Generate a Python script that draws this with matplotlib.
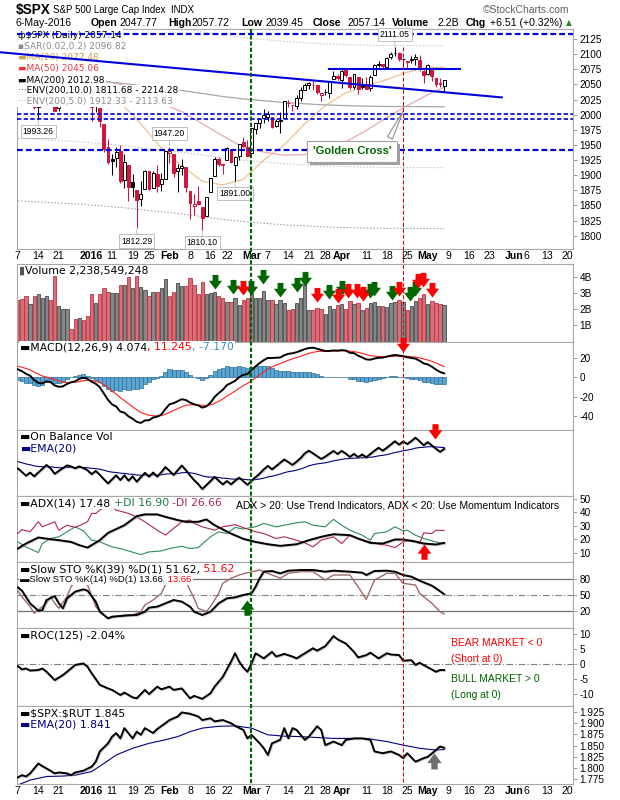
import numpy as np
import matplotlib
matplotlib.use("Agg")
import matplotlib.pyplot as plt
import matplotlib.transforms as mtransforms
import matplotlib.patheffects as pe
from matplotlib.lines import Line2D
from matplotlib.path import Path

plt.rcParams['font.family'] = ['DejaVu Sans']

# ---------------------------------------------------------------- data
# closes before the visible window (Sep 24 - Dec 4 2015), only used to warm up MACD
prior_close = [1932.24, 1931.34, 1881.77, 1884.09, 1920.03,
               1923.82, 1951.36, 1987.05, 1979.92, 1995.83, 2013.43, 2014.89, 2017.46, 2003.69,
               1994.24, 2023.86, 2033.11, 2033.66, 2030.77, 2018.94, 2052.51, 2075.15, 2071.18,
               2065.89, 2090.35, 2089.41, 2079.36,
               2104.05, 2109.79, 2102.31, 2099.93, 2099.20, 2078.58, 2081.72, 2075.00, 2045.97,
               2023.04, 2053.19, 2050.44, 2083.58, 2081.24, 2089.17, 2086.59, 2089.14, 2088.87,
               2090.11, 2080.41,
               2102.63, 2079.51, 2049.62, 2091.69]

# daily candles, Dec 7 2015 - May 6 2016
opens = [2090.42, 2073.39, 2061.17, 2047.93, 2047.27, 2013.37, 2025.55, 2046.50, 2073.76, 2040.81,
         2010.27, 2023.15, 2042.20, 2063.52, 2057.77, 2060.54, 2077.34, 2060.59, 2038.20, 2013.78,
         2011.71, 1985.32, 1945.97, 1926.12, 1927.83, 1940.34, 1891.68, 1916.68, 1888.66, 1876.18,
         1861.46, 1877.40, 1906.28, 1878.79, 1902.52, 1885.22, 1894.00, 1936.94, 1935.26, 1907.07,
         1911.67, 1913.07, 1873.25, 1848.46, 1857.10, 1847.00, 1833.40, 1871.44, 1898.80, 1927.57,
         1916.74, 1924.44, 1942.38, 1917.56, 1931.87, 1954.95, 1947.13, 1937.09, 1976.60, 1985.60,
         1994.01, 1996.11, 1996.88, 1981.44, 1990.97, 1994.71, 2019.27, 2015.27, 2014.24, 2026.90,
         2041.16, 2048.64, 2048.64, 2048.55, 2032.48, 2037.89, 2035.75, 2058.27, 2063.77, 2056.62,
         2073.19, 2062.50, 2045.56, 2063.01, 2045.54, 2050.23, 2043.72, 2065.92, 2082.89, 2083.10,
         2078.83, 2096.05, 2101.52, 2102.09, 2091.49, 2089.37, 2089.84, 2092.57, 2090.93, 2071.82,
         2067.17, 2077.18, 2060.30, 2052.95, 2047.77]
highs = [2090.42, 2073.85, 2080.33, 2067.65, 2047.27, 2022.92, 2053.87, 2076.72, 2076.37, 2040.81,
         2022.90, 2042.74, 2064.73, 2067.36, 2057.77, 2081.56, 2077.34, 2062.54, 2038.20, 2021.94,
         2011.71, 1985.32, 1960.40, 1935.65, 1947.38, 1950.33, 1934.47, 1916.68, 1901.44, 1876.18,
         1889.85, 1908.85, 1906.28, 1906.73, 1916.99, 1902.96, 1940.24, 1947.20, 1935.26, 1918.01,
         1927.35, 1913.07, 1873.25, 1868.25, 1881.60, 1847.00, 1864.78, 1895.77, 1930.68, 1930.00,
         1918.78, 1946.70, 1942.38, 1932.08, 1951.83, 1962.96, 1958.27, 1978.35, 1986.51, 1993.69,
         2009.13, 2006.12, 1996.88, 1992.69, 2005.08, 2022.37, 2024.57, 2015.94, 2032.02, 2046.24,
         2052.36, 2053.91, 2056.60, 2048.55, 2036.04, 2042.67, 2055.91, 2072.21, 2067.92, 2075.07,
         2074.02, 2062.50, 2067.33, 2063.01, 2060.63, 2062.93, 2065.05, 2083.18, 2087.84, 2083.22,
         2094.66, 2104.05, 2111.05, 2103.78, 2094.32, 2089.37, 2096.87, 2099.89, 2099.30, 2073.85,
         2083.42, 2077.18, 2060.30, 2060.23, 2057.72]
lows = [2066.78, 2052.32, 2036.53, 2045.67, 2008.80, 1993.26, 2025.55, 2042.43, 2041.66, 2005.33,
        2005.93, 2020.49, 2042.20, 2058.73, 2044.20, 2060.54, 2061.97, 2043.62, 1989.68, 2004.17,
        1979.05, 1938.83, 1918.46, 1901.10, 1914.35, 1886.41, 1878.93, 1857.83, 1864.60, 1812.29,
        1848.98, 1877.40, 1875.97, 1878.79, 1872.70, 1873.65, 1894.00, 1920.03, 1897.29, 1872.23,
        1900.52, 1872.65, 1828.46, 1834.94, 1850.32, 1810.10, 1833.40, 1871.44, 1898.80, 1915.09,
        1902.17, 1924.44, 1919.44, 1891.00, 1925.41, 1945.78, 1931.81, 1937.09, 1968.80, 1977.37,
        1986.77, 1989.38, 1977.43, 1979.84, 1969.25, 1994.71, 2012.05, 2005.23, 2010.04, 2022.16,
        2041.16, 2043.14, 2040.57, 2034.86, 2022.49, 2031.96, 2028.31, 2058.27, 2057.46, 2043.98,
        2062.57, 2042.56, 2043.09, 2033.80, 2041.69, 2041.88, 2039.74, 2065.92, 2078.13, 2076.31,
        2078.83, 2091.68, 2096.32, 2088.52, 2081.20, 2077.52, 2085.80, 2082.31, 2071.62, 2052.28,
        2066.11, 2054.89, 2045.55, 2045.77, 2039.45]
closes = [2077.07, 2063.59, 2047.62, 2052.23, 2012.37, 2021.94, 2043.41, 2073.07, 2041.89, 2005.55,
          2021.15, 2038.97, 2064.29, 2060.99, 2056.50, 2078.36, 2063.36, 2043.94, 2012.66, 2016.71,
          1990.26, 1943.09, 1922.03, 1923.67, 1938.68, 1890.28, 1921.84, 1880.33, 1881.33, 1859.33,
          1868.99, 1906.90, 1877.08, 1903.63, 1882.95, 1893.36, 1940.24, 1939.38, 1903.03, 1912.53,
          1915.45, 1880.05, 1853.44, 1852.21, 1851.86, 1829.08, 1864.78, 1895.58, 1926.82, 1917.83,
          1917.78, 1945.50, 1921.27, 1929.80, 1951.70, 1948.05, 1932.23, 1978.35, 1986.45, 1993.40,
          1999.99, 2001.76, 1979.26, 1989.26, 1989.57, 2022.19, 2019.64, 2015.93, 2027.22, 2040.59,
          2049.58, 2051.60, 2049.80, 2036.71, 2035.94, 2037.05, 2055.01, 2063.95, 2059.74, 2072.78,
          2066.13, 2045.17, 2066.66, 2041.91, 2047.60, 2041.99, 2061.72, 2082.42, 2082.78, 2080.73,
          2094.34, 2100.80, 2102.40, 2091.48, 2091.58, 2087.79, 2091.70, 2095.15, 2075.81, 2065.30,
          2081.43, 2063.37, 2051.12, 2050.63, 2057.14]
# volume in billions of shares
volume = [2.56, 2.62, 2.81, 2.31, 2.81, 2.94, 2.73, 2.81, 2.56, 4.06,
          2.23, 2.04, 2.04, 0.79, 1.42, 1.48, 1.31, 1.56, 2.92, 2.42,
          2.92, 3.29, 3.08, 3.04, 2.98, 3.50, 3.50, 4.02, 3.29, 4.06,
          3.40, 3.19, 2.81, 3.08, 3.08, 3.29, 3.85, 2.81, 3.10, 3.60,
          3.44, 3.44, 3.92, 3.50, 2.94, 3.67, 2.94, 2.98, 3.10, 2.81,
          2.73, 2.48, 2.46, 2.67, 2.29, 2.60, 2.73, 2.98, 2.67, 2.73,
          3.13, 2.60, 2.60, 2.35, 2.56, 2.42, 1.98, 2.04, 2.42, 2.67,
          3.50, 1.98, 1.98, 2.10, 2.04, 1.69, 2.19, 2.04, 2.25, 2.31,
          2.04, 2.50, 2.31, 2.42, 1.98, 2.10, 2.42, 2.48, 2.19, 2.19,
          2.15, 2.42, 2.46, 2.56, 2.46, 1.98, 2.19, 2.52, 2.67, 2.94,
          2.31, 2.50, 2.40, 2.35, 2.24]

# moving averages read every 5 sessions
ma_x = [0, 5, 10, 15, 20, 25, 30, 35, 40, 45, 50, 55, 60, 65, 70, 75, 80, 85, 90, 95, 100, 104]
ma20 = [2078, 2072, 2058, 2052, 2048, 2020, 1985, 1945, 1915, 1890, 1884, 1893, 1925, 1950, 1985,
        2015, 2036, 2048, 2058, 2070, 2079, 2077.48]
ma50 = [2045, 2050, 2055, 2058, 2058, 2050, 2035, 2019, 2005, 1985, 1965, 1946, 1938, 1933, 1934,
        1939, 1955, 1974, 1995, 2015, 2033, 2045.06]
ma200 = [2064, 2062, 2060, 2058, 2055, 2052, 2048, 2044, 2040, 2035, 2030, 2026, 2023, 2020, 2018,
         2016, 2015, 2014, 2013.5, 2013.5, 2013.2, 2012.98]

obv_ema_start = 2.4

adx_x = [0, 2, 5, 8, 10, 13, 15, 17, 20, 22, 26, 29, 31, 34, 36, 39, 41, 44, 46, 48,
         52, 55, 58, 61, 64, 68, 71, 74, 77, 81, 83, 86, 89, 92, 94, 97, 99, 102, 104]
adx = [13.3, 17.0, 21.5, 20.2, 19.5, 18.2, 15.8, 14.0, 19.5, 24.9, 30.6, 37.3, 38.6, 38.6, 36.8,
       34.4, 33.1, 33.1, 34.9, 30.6, 24.4, 20.5, 18.2, 16.5, 15.3, 16.5, 19.5, 22.0, 23.9, 23.2,
       20.7, 17.5, 17.0, 20.0, 20.0, 18.5, 17.0, 16.3, 17.48]
pdi_x = [0, 2, 5, 6, 8, 10, 12, 14, 16, 18, 20, 23, 25, 27, 30, 32, 35, 37, 40, 42,
         44, 47, 49, 51, 53, 55, 58, 60, 63, 65, 68, 70, 72, 75, 77, 79, 81, 84, 86, 87,
         90, 92, 94, 95, 97, 99, 102, 104]
pdi = [18.2, 14.5, 10.3, 17.0, 20.7, 22.0, 25.7, 29.4, 26.4, 19.5, 18.2, 14.5, 13.3, 11.5, 8.8,
       10.8, 11.5, 13.3, 15.0, 13.3, 14.0, 22.0, 25.7, 24.4, 28.9, 27.8, 29.4, 31.9, 29.4, 30.6,
       32.4, 33.1, 30.6, 29.4, 34.9, 30.6, 26.9, 23.2, 19.5, 24.4, 25.7, 29.4, 26.4, 26.9, 23.2,
       20.7, 18.2, 16.9]
mdi_x = [0, 1, 3, 5, 6, 9, 10, 12, 14, 17, 18, 19, 20, 22, 24, 27, 29, 31, 34, 36,
         38, 40, 42, 43, 45, 48, 50, 53, 55, 58, 60, 63, 65, 68, 70, 72, 74, 77, 79, 81,
         83, 86, 88, 90, 92, 94, 96, 98, 99, 101, 102, 104]
mdi = [24.4, 27.4, 25.7, 33.1, 29.4, 33.1, 26.9, 30.6, 28.9, 33.1, 39.3, 39.3, 41.8, 45.0, 41.8,
       39.3, 36.8, 33.1, 26.9, 23.2, 28.2, 33.1, 34.4, 31.9, 29.4, 26.9, 29.4, 31.0, 28.8, 25.7,
       24.4, 20.7, 22.0, 19.5, 17.5, 14.5, 19.5, 22.0, 17.0, 23.2, 20.7, 18.2, 16.5, 15.8, 14.0,
       18.2, 19.5, 17.0, 24.9, 24.4, 26.9, 26.66]

sto39_x = [0, 1, 3, 5, 6, 7, 9, 10, 11, 12, 14, 16, 17, 19, 20, 22, 23, 25, 27, 29,
           31, 32, 34, 36, 38, 40, 42, 43, 45, 47, 49, 51, 53, 55, 57, 58, 59, 60, 62, 64,
           66, 69, 72, 75, 77, 81, 84, 85, 87, 90, 92, 94, 96, 98, 101, 102, 104]
sto39 = [64.7, 58.3, 34.0, 20.0, 21.3, 40.4, 48.0, 34.0, 24.5, 43.6, 56.4, 60.8, 58.3, 37.3, 18.1,
         5.4, 8.6, 9.8, 11.1, 11.8, 18.1, 25.8, 27.7, 34.1, 40.4, 37.3, 27.7, 18.1, 11.8, 18.1,
         34.1, 43.6, 45.5, 50.0, 53.2, 65.9, 81.9, 94.6, 95.9, 91.4, 96.5, 97.8, 97.8, 94.6, 96.5,
         94.6, 92.7, 88.2, 95.9, 96.5, 94.6, 88.2, 85.1, 77.4, 67.8, 62.7, 51.62]
sto14_x = [0, 1, 3, 4, 5, 7, 8, 9, 10, 12, 13, 14, 16, 17, 18, 19, 21, 22, 24, 26,
           28, 30, 31, 33, 35, 36, 38, 40, 41, 43, 44, 46, 47, 49, 50, 52, 54, 55, 59, 61,
           64, 66, 69, 72, 75, 77, 81, 83, 85, 87, 90, 92, 94, 97, 98, 101, 103, 104]
sto14 = [58.3, 46.8, 27.7, 15.0, 21.3, 34.1, 46.8, 34.1, 24.5, 46.8, 65.9, 75.5, 72.3, 69.1, 50.0,
         27.7, 11.8, 5.4, 8.6, 11.8, 11.8, 18.1, 30.9, 40.4, 53.2, 69.1, 78.7, 83.8, 75.5, 43.6,
         24.5, 18.1, 27.7, 53.2, 72.3, 81.9, 88.2, 90.5, 97.8, 91.4, 81.9, 91.4, 94.6, 94.6, 78.7,
         88.2, 88.2, 65.9, 41.7, 78.7, 91.4, 91.4, 72.3, 69.1, 53.2, 34.1, 18.1, 13.66]

roc_x = [0, 1, 2, 3, 5, 6, 7, 9, 11, 12, 14, 16, 17, 18, 20, 22, 23, 25, 26, 28,
         29, 31, 32, 34, 35, 37, 38, 40, 42, 43, 45, 47, 48, 50, 52, 53, 54, 55, 56, 57,
         58, 60, 62, 63, 65, 67, 68, 70, 72, 73, 75, 77, 78, 80, 82, 83, 85, 86, 88, 90,
         91, 93, 94, 96, 97, 98, 100, 102, 103, 104]
roc = [-0.7, -1.8, -1.5, -2.2, -2.0, -1.5, -2.6, -5.4, -3.7, -2.6, -0.3, 0.2, -0.9, -3.1, -7.0,
       -8.2, -8.7, -10.4, -9.6, -11.2, -11.5, -8.7, -10.1, -7.6, -8.5, -7.6, -8.7, -8.2, -11.5,
       -10.7, -11.7, -9.8, -7.6, -4.3, 0.8, 3.6, 0.8, -1.2, -2.6, 0.2, 3.6, 1.9, 4.1, 2.5, 3.4,
       2.5, 1.9, 3.6, 5.3, 4.5, 6.0, 9.4, 8.3, 6.9, 4.1, 2.2, 3.0, 3.8, 1.9, 3.6, 3.2, 3.0, 1.1,
       1.3, -0.3, 0.4, -1.1, -2.6, -2.0, -2.04]

ratio_x = [0, 1, 2, 3, 5, 6, 7, 9, 10, 12, 13, 14, 16, 18, 19, 20, 22, 23, 24, 25,
           26, 28, 29, 30, 31, 33, 34, 36, 37, 39, 40, 42, 44, 45, 47, 48, 50, 52, 53, 55,
           56, 57, 59, 60, 61, 62, 64, 65, 66, 67, 68, 70, 71, 73, 74, 75, 77, 79, 80, 82,
           84, 86, 87, 89, 91, 93, 94, 95, 97, 99, 100, 102, 103, 104]
ratio = [1.779, 1.784, 1.781, 1.788, 1.810, 1.804, 1.799, 1.788, 1.790, 1.788,
         1.784, 1.790, 1.794, 1.803, 1.814, 1.837, 1.855, 1.870, 1.878, 1.866,
         1.889, 1.866, 1.881, 1.874, 1.889, 1.878, 1.887, 1.900, 1.907, 1.915,
         1.924, 1.921, 1.915, 1.907, 1.911, 1.904, 1.907, 1.900, 1.894, 1.885,
         1.866, 1.874, 1.855, 1.844, 1.829, 1.855, 1.863, 1.889, 1.866, 1.889,
         1.885, 1.863, 1.870, 1.893, 1.885, 1.851, 1.859, 1.851, 1.863, 1.866,
         1.866, 1.863, 1.837, 1.833, 1.837, 1.829, 1.822, 1.833, 1.814, 1.822,
         1.825, 1.840, 1.848, 1.845]
ratio_ema_x = [0, 3, 7, 11, 14, 18, 21, 24, 28, 32, 36, 39, 42, 45, 49, 53, 57, 61, 65, 69,
               77, 85, 90, 94, 98, 102, 104]
ratio_ema = [1.762, 1.773, 1.781, 1.782, 1.784, 1.792, 1.810, 1.829, 1.844, 1.855, 1.863, 1.870,
             1.881, 1.889, 1.893, 1.894, 1.889, 1.874, 1.871, 1.870, 1.866, 1.866, 1.859, 1.851,
             1.844, 1.840, 1.841]

tick_pos = [0, 5, 10, 18, 23, 28, 32, 37, 42, 47, 51, 57, 61, 66, 71, 75, 79, 85, 90, 95,
            100, 105, 110, 115, 121, 124, 129, 134]
tick_lab = ['7', '14', '21', '2016', '11', '19', '25', 'Feb', '8', '16', '22', 'Mar', '7', '14',
            '21', '28', 'Apr', '11', '18', '25', 'May', '9', '16', '23', 'Jun', '6', '13', '20']

# labelled extremes: session index and which end of the candle
note_idx = [5, 37, 53, 29, 45, 92]
note_kind = ['low', 'high', 'low', 'low', 'low', 'high']

# drawn trendlines / levels
hlevels = [2132.7, 2001.6, 1992.4, 1941.0]
hlevel_lw = [1.6, 1.2, 1.2, 1.6]
slope_x = [-4.34, 118.05]
slope_y = [2103.1, 2028.5]
flat_x = [76.0, 107.8]
flat_y = [2076.0, 2076.0]
green_line_x = 56.8
red_line_x = 93.9

# annotation arrows
vol_green_x = [48.1, 52.5, 56.9, 59.8, 64.0, 68.1, 70.0, 75.9, 79.1, 85.9, 86.9, 91.3, 95.7, 96.9]
vol_green_y = [3.28, 2.97, 2.91, 3.59, 2.78, 3.09, 3.47, 2.66, 2.91, 2.72, 2.84, 2.59, 2.53, 2.84]
vol_red_x = [55.0, 73.0, 78.1, 80.5, 82.7, 84.2, 93.0, 97.6, 98.8, 101.0]
vol_red_y = [2.91, 2.47, 2.41, 2.72, 2.72, 2.53, 2.84, 3.34, 3.41, 2.78]

# ---------------------------------------------------------------- derived
n = len(closes)
x = np.arange(n)
o, h, l, c = (np.array(v) for v in (opens, highs, lows, closes))
vol = np.array(volume)
prevc = np.r_[prior_close[-1], c[:-1]]
up = c >= prevc


def ema(vals, span, start=None):
    a = 2.0 / (span + 1)
    out = np.empty(len(vals))
    out[0] = vals[0] if start is None else start
    for k in range(1, len(vals)):
        out[k] = out[k - 1] + a * (vals[k] - out[k - 1])
    return out


allc = np.array(prior_close + closes)
macd_all = ema(allc, 12) - ema(allc, 26)
sig_all = ema(macd_all, 9)
k0 = len(prior_close)
macd = macd_all[k0:]
signal = sig_all[k0:]
hist = macd - signal

obv = np.cumsum(np.where(up, vol, -vol))
obv_ema = ema(obv, 20, start=obv_ema_start)

# ---------------------------------------------------------------- layout
W, H = 620, 800
PL, PR = 16.7, 573.3
fig = plt.figure(figsize=(W / 100, H / 100), dpi=100)
fig.patch.set_facecolor('white')


def fx(px):
    return px / W


def fy(py):
    return 1 - py / H


AXF = 'Liberation Sans'


def panel(top, bot, ylim, yticks=None, ylabels=None):
    ax = fig.add_axes([fx(PL), fy(bot), (PR - PL) / W, (bot - top) / H])
    ax.set_xlim(-0.27, 135.5)
    ax.set_ylim(*ylim)
    for s in ax.spines.values():
        s.set_color('#A8A8A8')
        s.set_linewidth(0.8)
    ax.yaxis.tick_right()
    ax.tick_params(axis='y', direction='out', length=3, width=0.6, color='#909090',
                   labelsize=7.2, pad=1.5)
    ax.set_xticks([])
    if yticks is None:
        ax.set_yticks([])
    else:
        lab = ylabels if ylabels is not None else [str(t) for t in yticks]
        ax.set_yticks(yticks, lab, fontfamily=AXF)
    return ax


def xlabels(ax):
    ax.set_xticks(tick_pos, tick_lab, fontsize=7.6, fontfamily=AXF)
    for t, s in zip(ax.get_xticklabels(), tick_lab):
        if (not s.isdigit()) or s == '2016':
            t.set_fontweight('bold')
    ax.tick_params(axis='x', length=0, pad=1.5)


def write(ax, px, py, pieces, size=7.8, family='DejaVu Sans', bg=True, z=6):
    prev = None
    for s, colr in pieces:
        kw = dict(color=colr, fontsize=size, fontfamily=family, zorder=z, parse_math=False)
        if bg:
            kw['bbox'] = dict(boxstyle='square,pad=0.1', fc='white', ec='none')
        if prev is None:
            prev = ax.text(fx(px), fy(py), s, transform=fig.transFigure, ha='left', va='center', **kw)
        else:
            prev = ax.annotate(s, xy=(1, 0), xycoords=prev, ha='left', va='bottom', **kw)
    return prev


down_arrow = Path([(0, 0), (0.45, 0.6), (0.2, 0.6), (0.2, 1.0), (-0.2, 1.0), (-0.2, 0.6),
                   (-0.45, 0.6), (0, 0)], closed=True)
up_arrow = Path([(0, 0), (0.45, -0.6), (0.2, -0.6), (0.2, -1.0), (-0.2, -1.0), (-0.2, -0.6),
                 (-0.45, -0.6), (0, 0)], closed=True)


def arrows(ax, xs, ys, color, marker, ms=22):
    ax.plot(xs, ys, linestyle='none', marker=marker, ms=ms, mfc=color, mec=color, mew=0,
            clip_on=False, zorder=7)


shadow = [pe.SimpleLineShadow(offset=(0.6, -0.6), shadow_color='#9A9A9A', alpha=0.5), pe.Normal()]

# ---------------------------------------------------------------- header
fig.text(fx(16), fy(10), '$SPX', fontsize=9.8, fontweight='bold', family=AXF, va='center',
         parse_math=False)
fig.text(fx(53), fy(10), 'S&P 500 Large Cap Index  INDX', fontsize=7.0, family=AXF, va='center')
fig.text(fx(483), fy(10), '\u00a9StockCharts.com', fontsize=7.5, family=AXF, va='center',
         color='#606060')
head = [(16, '6-May-2016', 'normal'), (91, 'Open', 'bold'), (120, '2047.77', 'normal'),
        (168, 'High', 'bold'), (192, '2057.72', 'normal'), (241, 'Low', 'bold'),
        (265, '2039.45', 'normal'), (313, 'Close', 'bold'), (347, '2057.14', 'normal'),
        (392, 'Volume', 'bold'), (437, '2.2B', 'normal'), (466, 'Chg', 'bold'),
        (490, '+6.51 (+0.32%)', 'normal')]
for px, s, wgt in head:
    fig.text(fx(px), fy(23), s, fontsize=7.6, fontweight=wgt, family=AXF, va='center')
fig.text(fx(566), fy(23), '\u25b2', fontsize=5.5, color='#1E8C1E', va='center')

# ---------------------------------------------------------------- price panel
axp = panel(29.3, 249.3, (1777.6, 2141.0), list(range(1800, 2126, 25)))
xlabels(axp)
ccol = np.where(up, 'black', '#D2143C')
axp.vlines(x, l, h, colors=ccol, lw=0.75, zorder=3)
fill = np.where(c > o, 'white', ccol)
axp.bar(x, np.maximum(np.abs(c - o), 0.5), bottom=np.minimum(o, c), width=0.7, color=fill,
        edgecolor=ccol, linewidth=0.7, zorder=3.5)

m200 = np.array(ma200)
axp.plot(ma_x, ma20, color='#EDC38E', lw=0.9, zorder=2)
axp.plot(ma_x, ma50, color='#E8ABAB', lw=0.9, zorder=2)
axp.plot(ma_x, m200, color='#A8A8A8', lw=0.9, zorder=2)
axp.plot(ma_x, m200 * 0.9, color='#A8A8A8', lw=0.8, ls=(0, (1.5, 1.5)), zorder=2)
axp.plot(ma_x, m200 * 1.1, color='#A8A8A8', lw=0.8, ls=(0, (1.5, 1.5)), zorder=2)
axp.plot(ma_x, m200 * 0.95, color='#CBCBCB', lw=0.8, ls=(0, (1.5, 1.5)), zorder=2)
axp.plot(ma_x, m200 * 1.05, color='#CBCBCB', lw=0.8, ls=(0, (1.5, 1.5)), zorder=2)

legend_items = [('\u0444$SPX (Daily) 2057.14', 'black'),
                ('\u25aaSAR(0.02,0.2) 2096.82', '#8C8C8C'),
                ('\u25acMA(20) 2077.48', '#D9A04E'),
                ('\u25acMA(50) 2045.06', '#E8383C'),
                ('\u25acMA(200) 2012.98', 'black'),
                ('\u00b7\u00b7\u00b7ENV(200,10.0) 1811.68 - 2214.28', 'black'),
                ('\u00b7\u00b7\u00b7ENV(200,5.0) 1912.33 - 2113.63', '#8C8C8C')]
legend_y = [35.0, 46.7, 57.3, 69.0, 80.0, 90.7, 101.3]
for (s, colr), py in zip(legend_items, legend_y):
    axp.text(fx(18), fy(py), s, transform=fig.transFigure, fontsize=6.5, color=colr,
             va='center', ha='left', zorder=4, parse_math=False,
             bbox=dict(boxstyle='square,pad=0.15', fc='white', ec='none'))

blue = '#0000DD'
for lev, lw in zip(hlevels, hlevel_lw):
    axp.axhline(lev, color=blue, lw=lw, ls=(0, (2.6, 1.4)), zorder=5)
axp.plot(slope_x, slope_y, color=blue, lw=1.5, zorder=5, clip_on=False)
axp.plot(flat_x, flat_y, color=blue, lw=1.5, zorder=5)

for i, kind in zip(note_idx, note_kind):
    v = highs[i] if kind == 'high' else lows[i]
    dy = 6 if kind == 'high' else -6
    axp.annotate(f'{v:.2f}', xy=(i, v), xytext=(0, dy), textcoords='offset points',
                 ha='center', va='bottom' if kind == 'high' else 'top', fontsize=6.2,
                 family=AXF, zorder=6,
                 bbox=dict(boxstyle='square,pad=0.25', fc='white', ec='#B4B4B4', lw=0.6),
                 arrowprops=dict(arrowstyle='-', color='#B4B4B4', lw=0.6, shrinkA=0, shrinkB=1))

gc_xy = (94.3, 2010.0)
gc_text = (81.5, 1939.5)
gc = axp.annotate("'Golden Cross'", xy=gc_xy, xytext=gc_text, ha='center', va='center',
                  fontsize=8, fontweight='bold', family=AXF, color='#006400', zorder=8,
                  bbox=dict(boxstyle='square,pad=0.5', fc='white', ec='#A0A0A0', lw=0.8),
                  arrowprops=dict(arrowstyle='wedge,tail_width=0.5', fc='white', ec='#909090',
                                  lw=0.8, relpos=(0.93, 1.0)))
gc.get_bbox_patch().set_path_effects([
    pe.SimplePatchShadow(offset=(2, -2), shadow_rgbFace='#A0A0A0', alpha=1.0), pe.Normal()])

# ---------------------------------------------------------------- volume
axv = panel(263.5, 341.5, (0, 4.84), [1, 2, 3, 4], ['1B', '2B', '3B', '4B'])
axv.bar(x, vol, width=0.82, color=np.where(up, '#878787', '#D5707A'),
        edgecolor=np.where(up, '#4A4A4A', '#C0303E'), linewidth=0.6, zorder=2)
arrows(axv, vol_green_x, vol_green_y, '#006600', down_arrow, ms=21)
arrows(axv, vol_red_x, vol_red_y, '#FF0000', down_arrow, ms=21)
write(axv, 19, 271, [('\u25ae', '#555555'), ('Volume 2,238,549,248', 'black')], bg=False)

# ---------------------------------------------------------------- MACD
axm = panel(341.5, 430.0, (-54.9, 37.3), [-40, -20, 0, 20])
axm.bar(x, hist, width=1.0, color='#5BA5D2', edgecolor='#2B6E96', linewidth=0.5, zorder=2)
axm.plot(x, signal, color='#FF2020', lw=0.8, zorder=3)
axm.plot(x, macd, color='black', lw=1.4, zorder=4)
arrows(axm, [94.0], [26.4], '#FF0000', down_arrow, ms=21)
write(axm, 20, 347.3, [('\u25acMACD(12,26,9) 4.074', 'black'), (', 11.245', '#FF0000'),
                       (', -7.170', '#3A8FC4')])

# ---------------------------------------------------------------- OBV
axo = panel(430.0, 496.3, (-23.3, 26.0))
axo.plot(x, obv_ema, color='#000080', lw=0.8, zorder=3)
axo.plot(x, obv, color='black', lw=1.4, zorder=4, path_effects=shadow)
arrows(axo, [101.8], [19.1], '#FF0000', down_arrow, ms=22)
write(axo, 20, 437.3, [('\u25acOn Balance Vol', 'black')])
write(axo, 20, 448.3, [('\u25acEMA(20)', '#000080')])

# ---------------------------------------------------------------- ADX
axa = panel(496.3, 562.3, (3.1, 52.0), [10, 20, 30, 40, 50])
axa.plot(pdi_x, pdi, color='#2E8B57', lw=0.8, zorder=3)
axa.plot(mdi_x, mdi, color='#B2284E', lw=0.8, zorder=3)
axa.plot(adx_x, adx, color='black', lw=1.4, zorder=4, path_effects=shadow)
arrows(axa, [99.1], [16.5], '#FF0000', up_arrow, ms=22)
write(axa, 20, 503.3, [('\u25acADX(14) 17.48 ', 'black'), ('+DI 16.90 ', '#1E7A3C'),
                       ('-DI 26.66', '#B2284E')])
axa.text(fx(235.5), fy(505.3), 'ADX > 20: Use Trend Indicators, ADX < 20: Use Momentum Indicators',
         transform=fig.transFigure, fontsize=7.5, family=AXF, va='center', ha='left', zorder=6)

# ---------------------------------------------------------------- Slow STO
axs = panel(562.3, 628.3, (-13.7, 112.5), [20, 50, 80])
axs.axhline(80, color='#707070', lw=0.9, zorder=1)
axs.axhline(20, color='#707070', lw=0.9, zorder=1)
axs.axhline(50, color='#808080', lw=0.8, ls=(0, (6, 2, 1, 2)), zorder=1)
axs.plot(sto14_x, sto14, color='#A06A6A', lw=1.0, zorder=3)
axs.plot(sto39_x, sto39, color='black', lw=1.4, zorder=4, path_effects=shadow)
arrows(axs, [55.8], [40.4], '#006600', up_arrow, ms=22)
write(axs, 20, 569.3, [('\u25acSlow STO %K(39) %D(1) 51.62,', 'black'), (' 51.62', '#FF0000')])
write(axs, 20, 579.3, [('\u25acSlow STO %K(14) %D(1) 13.66,', 'black'), (' 13.66', '#FF0000')],
      size=6.8, family=AXF)

# ---------------------------------------------------------------- ROC
axr = panel(628.3, 705.7, (-14.0, 12.0), [-10, -5, 0, 5, 10])
axr.axhline(0, color='#808080', lw=0.8, ls=(0, (6, 2, 1, 2)), zorder=1)
axr.plot(roc_x, roc, color='black', lw=1.4, zorder=4, path_effects=shadow)
write(axr, 20, 635.7, [('\u25acROC(125) -2.04%', 'black')])
for py, s, colr in [(643.3, 'BEAR MARKET < 0', '#FF0000'), (659.0, '(Short at 0)', '#FF0000'),
                    (679.3, 'BULL MARKET > 0', '#006400'), (695.0, '(Long at 0)', '#006400')]:
    axr.text(fx(451), fy(py), s, transform=fig.transFigure, fontsize=7.4, family=AXF,
             color=colr, va='center', ha='left', zorder=6)

# ---------------------------------------------------------------- SPX:RUT
axq = panel(705.7, 784.3, (1.7636, 1.939),
            [1.775, 1.8, 1.825, 1.85, 1.875, 1.9, 1.925],
            ['1.775', '1.800', '1.825', '1.850', '1.875', '1.900', '1.925'])
xlabels(axq)
axq.plot(ratio_ema_x, ratio_ema, color='#000080', lw=0.8, zorder=3)
axq.plot(ratio_x, ratio, color='black', lw=1.4, zorder=4, path_effects=shadow)
arrows(axq, [101.6], [1.833], '#6E6E6E', up_arrow, ms=23)
write(axq, 20, 713.3, [('\u25ac$SPX:$RUT 1.845', 'black')])
write(axq, 20, 724.3, [('\u25acEMA(20) 1.841', '#000080')])

# ---------------------------------------------------------------- event lines
vt = mtransforms.blended_transform_factory(axp.transData, fig.transFigure)
fig.add_artist(Line2D([green_line_x, green_line_x], [fy(29.3), fy(784.3)], transform=vt,
                      color='#006400', lw=1.5, ls=(0, (2.0, 1.0)), zorder=3))
fig.add_artist(Line2D([red_line_x, red_line_x], [fy(47.0), fy(784.3)], transform=vt,
                      color='#E00000', lw=0.75, ls=(0, (3.9, 1.9)), zorder=3))

fig.savefig('out.png', dpi=100, facecolor='white')
